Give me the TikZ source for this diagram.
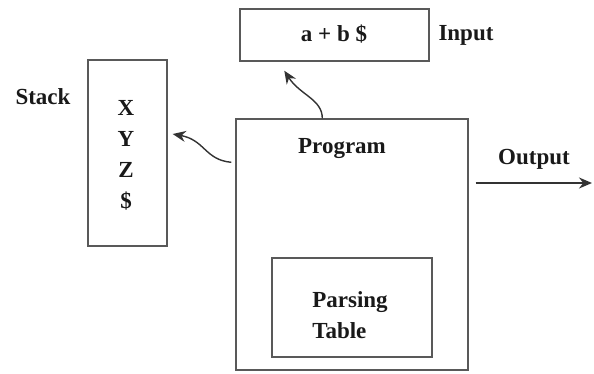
\documentclass[tikz,border=0pt]{standalone}
\usepackage{fontspec}
\setmainfont{Liberation Serif}
\usetikzlibrary{arrows.meta}
\begin{document}
\begin{tikzpicture}[x=1pt,y=-1pt,
  box/.style={draw=black!65,line width=1.4pt,rectangle,inner sep=0pt},
  lbl/.style={font=\fontsize{23}{31}\selectfont\bfseries,inner sep=0pt,text=black!90},
  conn/.style={draw=black!80,line width=1.4pt,-{Stealth[length=13pt,width=11pt]}}]
\useasboundingbox (0,0) rectangle (594,374);
% boxes
\node[box,minimum width=79pt,minimum height=186pt] (stack) at (127.5,153) {};
\node[box,minimum width=189pt,minimum height=52pt] (inp) at (334.5,35) {};
\node[box,minimum width=232pt,minimum height=251pt] (prog) at (352,244.5) {};
\node[box,minimum width=160pt,minimum height=99pt] (ptab) at (352,307.5) {};
% texts
\node[lbl] (inptxt) at (334,34) {a + b \$};
\node[lbl] (inplbl) at (466,35) {Input};
\node[lbl] (stlbl) at (43,97) {Stack};
\node[lbl,align=center] (sttxt) at (126,155) {X\\Y\\Z\\\$};
\node[lbl] (prtxt) at (342,149) {Program};
\node[lbl] (outlbl) at (534,159) {Output};
\node[lbl,align=left] (pttxt) at (350,315) {Parsing\\Table};
% connectors
\coordinate (outend) at (592,183);
\draw[conn] ([xshift=7pt]prog.east |- outend) -- (outend);
\draw[conn] ([xshift=87pt]prog.north west) .. controls ++(0,-19) and (300,95) .. ([xshift=45pt,yshift=-9pt]inp.south west);
\draw[conn] ([xshift=-4pt,yshift=-44pt]prog.north west) .. controls (205,160) and (205,140) .. ([xshift=5pt,yshift=19pt]stack.east);
\end{tikzpicture}
\end{document}
